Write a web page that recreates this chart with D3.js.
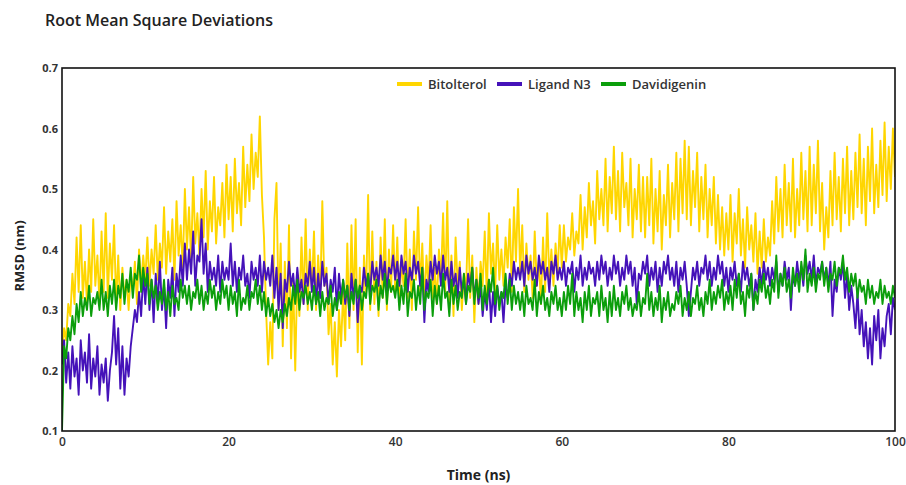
<!DOCTYPE html>
<html>
<head>
<meta charset="utf-8">
<script src="https://cdn.jsdelivr.net/npm/d3@7"></script>
<style>
  body { margin: 0; background: #fff; }
  text { font-family: "Open Sans", "DejaVu Sans", sans-serif; }
</style>
</head>
<body>
<div class="chart"></div>
<script>
// sampled every 0.25 ns, 0 .. 100 ns
const timeStep = 0.25;

const bitolterol = [
  0.22,0.27,0.25,0.31, 0.29,0.36,0.31,0.42, 0.33,0.44,0.32,0.38, 0.31,0.40,0.33,0.45, 0.34,0.39,0.31,0.43,
  0.33,0.46,0.32,0.41, 0.35,0.44,0.31,0.39, 0.30,0.37,0.32,0.35, 0.30,0.36,0.33,0.38, 0.31,0.40,0.34,0.39,
  0.35,0.42,0.34,0.40, 0.36,0.44,0.35,0.41, 0.37,0.47,0.36,0.43, 0.38,0.45,0.35,0.48, 0.39,0.44,0.37,0.50,
  0.40,0.47,0.38,0.52, 0.41,0.46,0.39,0.50, 0.42,0.53,0.40,0.48, 0.43,0.52,0.41,0.47, 0.44,0.51,0.42,0.54,
  0.45,0.52,0.43,0.55, 0.46,0.51,0.44,0.57, 0.47,0.54,0.48,0.59, 0.50,0.56,0.52,0.62, 0.49,0.42,0.30,0.21,
  0.28,0.22,0.45,0.51, 0.30,0.41,0.24,0.38, 0.27,0.44,0.22,0.35, 0.20,0.36,0.29,0.42, 0.31,0.45,0.30,0.40,
  0.33,0.43,0.30,0.39, 0.32,0.48,0.34,0.37, 0.26,0.31,0.21,0.28, 0.19,0.30,0.24,0.33, 0.25,0.41,0.27,0.44,
  0.30,0.45,0.23,0.37, 0.21,0.39,0.32,0.49, 0.30,0.43,0.31,0.38, 0.29,0.42,0.32,0.45, 0.30,0.40,0.33,0.44,
  0.33,0.42,0.31,0.38, 0.34,0.45,0.32,0.40, 0.30,0.43,0.35,0.47, 0.33,0.41,0.31,0.39, 0.34,0.44,0.32,0.37,
  0.31,0.40,0.35,0.46, 0.33,0.48,0.31,0.39, 0.29,0.42,0.34,0.38, 0.30,0.36,0.33,0.45, 0.32,0.39,0.28,0.37,
  0.31,0.38,0.34,0.43, 0.32,0.46,0.36,0.41, 0.33,0.44,0.35,0.40, 0.34,0.42,0.37,0.45, 0.33,0.47,0.38,0.50,
  0.36,0.44,0.33,0.41, 0.35,0.39,0.32,0.43, 0.34,0.38,0.31,0.42, 0.33,0.46,0.35,0.40, 0.34,0.41,0.36,0.44,
  0.37,0.44,0.38,0.42, 0.40,0.46,0.39,0.43, 0.41,0.49,0.40,0.47, 0.42,0.51,0.44,0.48, 0.41,0.53,0.45,0.50,
  0.44,0.55,0.43,0.52, 0.46,0.57,0.45,0.53, 0.43,0.56,0.47,0.51, 0.44,0.55,0.42,0.50, 0.45,0.54,0.43,0.52,
  0.42,0.52,0.44,0.55, 0.41,0.50,0.43,0.53, 0.40,0.49,0.44,0.54, 0.42,0.51,0.45,0.56, 0.43,0.55,0.46,0.58,
  0.45,0.57,0.44,0.53, 0.47,0.56,0.43,0.52, 0.45,0.54,0.42,0.50, 0.44,0.52,0.41,0.49, 0.40,0.47,0.39,0.46,
  0.40,0.49,0.38,0.46, 0.41,0.50,0.39,0.45, 0.37,0.47,0.40,0.44, 0.38,0.46,0.36,0.43, 0.37,0.45,0.38,0.42,
  0.39,0.48,0.41,0.52, 0.43,0.50,0.42,0.54, 0.44,0.51,0.43,0.55, 0.42,0.50,0.44,0.56, 0.45,0.53,0.43,0.57,
  0.44,0.54,0.46,0.58, 0.43,0.51,0.40,0.47, 0.42,0.53,0.44,0.56, 0.45,0.52,0.43,0.55, 0.46,0.57,0.44,0.53,
  0.45,0.56,0.47,0.59, 0.46,0.55,0.44,0.57, 0.48,0.60,0.46,0.54, 0.47,0.58,0.49,0.61, 0.48,0.57,0.50,0.60,
  0.52
];

const ligandN3 = [
  0.21,0.25,0.18,0.23, 0.17,0.24,0.19,0.22, 0.16,0.25,0.20,0.23, 0.18,0.26,0.17,0.22, 0.19,0.24,0.16,0.21,
  0.18,0.22,0.15,0.20, 0.23,0.29,0.21,0.27, 0.17,0.24,0.16,0.22, 0.19,0.24,0.27,0.30, 0.28,0.33,0.29,0.36,
  0.31,0.37,0.30,0.35, 0.28,0.36,0.31,0.38, 0.30,0.34,0.27,0.35, 0.32,0.37,0.29,0.36, 0.33,0.39,0.34,0.41,
  0.35,0.40,0.36,0.43, 0.34,0.39,0.38,0.45, 0.36,0.41,0.33,0.38, 0.35,0.37,0.34,0.39, 0.33,0.38,0.35,0.37,
  0.35,0.41,0.34,0.38, 0.33,0.37,0.35,0.39, 0.34,0.36,0.32,0.38, 0.35,0.37,0.34,0.39, 0.33,0.38,0.35,0.37,
  0.34,0.39,0.32,0.37, 0.30,0.36,0.27,0.35, 0.33,0.38,0.34,0.36, 0.32,0.37,0.33,0.35, 0.31,0.36,0.34,0.38,
  0.33,0.37,0.31,0.36, 0.32,0.38,0.34,0.36, 0.31,0.35,0.33,0.37, 0.30,0.36,0.32,0.35, 0.31,0.34,0.29,0.36,
  0.32,0.35,0.28,0.34, 0.33,0.37,0.34,0.36, 0.33,0.38,0.35,0.37, 0.34,0.39,0.35,0.38, 0.33,0.37,0.36,0.39,
  0.35,0.38,0.34,0.39, 0.36,0.38,0.33,0.37, 0.35,0.39,0.36,0.38, 0.34,0.37,0.28,0.35, 0.33,0.38,0.35,0.39,
  0.36,0.38,0.34,0.39, 0.35,0.37,0.33,0.38, 0.34,0.36,0.32,0.37, 0.33,0.35,0.31,0.36, 0.34,0.37,0.32,0.35,
  0.31,0.34,0.29,0.33, 0.30,0.35,0.28,0.33, 0.29,0.34,0.31,0.33, 0.28,0.34,0.32,0.36, 0.34,0.38,0.35,0.37,
  0.35,0.38,0.34,0.39, 0.36,0.38,0.35,0.37, 0.34,0.39,0.36,0.38, 0.35,0.37,0.33,0.38, 0.36,0.39,0.35,0.37,
  0.35,0.38,0.34,0.37, 0.36,0.38,0.33,0.37, 0.35,0.39,0.34,0.37, 0.35,0.38,0.36,0.37, 0.34,0.38,0.35,0.39,
  0.36,0.38,0.34,0.37, 0.35,0.39,0.36,0.38, 0.34,0.37,0.35,0.39, 0.36,0.38,0.34,0.37, 0.31,0.36,0.35,0.38,
  0.36,0.39,0.34,0.37, 0.35,0.38,0.33,0.37, 0.34,0.38,0.36,0.39, 0.35,0.37,0.34,0.38, 0.33,0.37,0.35,0.38,
  0.34,0.29,0.33,0.37, 0.35,0.38,0.34,0.37, 0.36,0.39,0.35,0.38, 0.34,0.37,0.35,0.39, 0.36,0.38,0.34,0.37,
  0.33,0.37,0.35,0.38, 0.34,0.36,0.33,0.38, 0.35,0.37,0.34,0.36, 0.30,0.35,0.33,0.37, 0.34,0.38,0.35,0.37,
  0.34,0.37,0.35,0.38, 0.33,0.36,0.34,0.38, 0.35,0.37,0.30,0.36, 0.34,0.38,0.35,0.37, 0.34,0.39,0.36,0.38,
  0.35,0.39,0.34,0.37, 0.36,0.38,0.35,0.37, 0.34,0.38,0.29,0.35, 0.33,0.37,0.35,0.38, 0.32,0.36,0.30,0.34,
  0.31,0.27,0.33,0.26, 0.30,0.24,0.28,0.22, 0.27,0.21,0.29,0.25, 0.30,0.22,0.27,0.24, 0.29,0.31,0.26,0.32,
  0.30
];

const davidigenin = [
  0.10,0.24,0.22,0.27, 0.25,0.29,0.26,0.31, 0.28,0.33,0.29,0.32, 0.30,0.34,0.29,0.32, 0.31,0.33,0.30,0.35,
  0.30,0.33,0.29,0.34, 0.31,0.35,0.30,0.34, 0.32,0.36,0.31,0.35, 0.33,0.37,0.32,0.36, 0.35,0.39,0.33,0.37,
  0.34,0.36,0.31,0.35, 0.32,0.34,0.30,0.33, 0.31,0.35,0.30,0.33, 0.29,0.34,0.31,0.32, 0.30,0.35,0.32,0.34,
  0.31,0.34,0.30,0.33, 0.32,0.35,0.31,0.34, 0.30,0.33,0.31,0.35, 0.32,0.34,0.30,0.33, 0.31,0.35,0.32,0.34,
  0.30,0.34,0.31,0.33, 0.29,0.35,0.30,0.32, 0.31,0.34,0.30,0.33, 0.32,0.35,0.31,0.34, 0.30,0.33,0.29,0.32,
  0.29,0.31,0.28,0.30, 0.27,0.30,0.28,0.31, 0.29,0.32,0.30,0.34, 0.31,0.35,0.30,0.33, 0.32,0.34,0.31,0.33,
  0.30,0.34,0.31,0.33, 0.29,0.33,0.30,0.32, 0.31,0.34,0.29,0.32, 0.30,0.33,0.31,0.35, 0.32,0.34,0.30,0.33,
  0.31,0.35,0.32,0.34, 0.30,0.33,0.32,0.36, 0.31,0.34,0.33,0.35, 0.30,0.34,0.32,0.36, 0.31,0.35,0.33,0.34,
  0.32,0.35,0.30,0.34, 0.31,0.36,0.29,0.33, 0.32,0.35,0.30,0.34, 0.31,0.37,0.30,0.33, 0.32,0.35,0.29,0.34,
  0.31,0.34,0.30,0.36, 0.32,0.33,0.29,0.35, 0.31,0.34,0.30,0.33, 0.32,0.36,0.31,0.34, 0.33,0.37,0.31,0.35,
  0.32,0.36,0.30,0.34, 0.31,0.35,0.33,0.37, 0.31,0.34,0.30,0.33, 0.32,0.36,0.31,0.35, 0.30,0.34,0.31,0.33,
  0.30,0.33,0.29,0.34, 0.31,0.32,0.30,0.35, 0.29,0.33,0.31,0.34, 0.30,0.32,0.29,0.33, 0.31,0.34,0.30,0.32,
  0.29,0.33,0.30,0.34, 0.31,0.36,0.29,0.33, 0.30,0.32,0.28,0.33, 0.30,0.34,0.29,0.32, 0.31,0.33,0.29,0.34,
  0.30,0.32,0.28,0.33, 0.29,0.34,0.30,0.32, 0.29,0.33,0.31,0.34, 0.30,0.32,0.29,0.31, 0.30,0.33,0.29,0.32,
  0.31,0.36,0.30,0.33, 0.29,0.32,0.30,0.34, 0.28,0.32,0.30,0.33, 0.29,0.31,0.30,0.33, 0.31,0.34,0.29,0.32,
  0.30,0.33,0.29,0.32, 0.31,0.34,0.30,0.32, 0.29,0.33,0.31,0.35, 0.30,0.33,0.31,0.34, 0.32,0.35,0.30,0.33,
  0.31,0.34,0.30,0.35, 0.32,0.36,0.31,0.33, 0.29,0.34,0.32,0.36, 0.30,0.33,0.31,0.35, 0.33,0.36,0.32,0.34,
  0.31,0.35,0.33,0.39, 0.32,0.36,0.34,0.37, 0.33,0.35,0.32,0.37, 0.34,0.36,0.33,0.38, 0.35,0.40,0.33,0.36,
  0.34,0.37,0.33,0.36, 0.35,0.38,0.34,0.37, 0.33,0.36,0.35,0.38, 0.34,0.37,0.36,0.39, 0.35,0.37,0.33,0.36,
  0.34,0.36,0.32,0.35, 0.33,0.34,0.31,0.35, 0.32,0.34,0.31,0.33, 0.32,0.35,0.31,0.34, 0.32,0.33,0.31,0.34,
  0.32
];

const seriesNames = ["Bitolterol", "Ligand N3", "Davidigenin"];
const seriesColors = ["#ffd600", "#4512b9", "#0b9e0b"];
const xTicks = [0, 20, 40, 60, 80, 100];
const yTicks = [0.1, 0.2, 0.3, 0.4, 0.5, 0.6, 0.7];

const width = 906, height = 485;
const margin = {top: 68, right: 11, bottom: 54, left: 62};

const svg = d3.select(".chart").append("svg")
    .attr("width", width)
    .attr("height", height);

const xScale = d3.scaleLinear()
    .domain([0, 100])
    .range([margin.left, width - margin.right]);

const yScale = d3.scaleLinear()
    .domain([0.1, 0.7])
    .range([height - margin.bottom, margin.top]);

svg.append("text")
    .attr("x", 45)
    .attr("y", 26)
    .attr("font-size", 16)
    .attr("font-weight", 600)
    .attr("fill", "#222")
    .text("Root Mean Square Deviations");

const xAxis = d3.axisBottom(xScale)
    .tickValues(xTicks)
    .tickSize(0)
    .tickPadding(6)
    .tickFormat(d3.format("d"));

const yAxis = d3.axisLeft(yScale)
    .tickValues(yTicks)
    .tickSize(0)
    .tickPadding(4)
    .tickFormat(d3.format(".1f"));

svg.append("g")
    .attr("class", "axis x-axis")
    .attr("transform", `translate(0, ${height - margin.bottom})`)
    .call(xAxis)
    .call(g => g.select(".domain").remove())
    .selectAll("text")
    .attr("font-size", 12)
    .attr("font-weight", 600)
    .attr("fill", "#333");

svg.append("g")
    .attr("class", "axis y-axis")
    .attr("transform", `translate(${margin.left}, 0)`)
    .call(yAxis)
    .call(g => g.select(".domain").remove())
    .selectAll("text")
    .attr("font-size", 11)
    .attr("font-weight", 700)
    .attr("fill", "#333");

const series = [bitolterol, ligandN3, davidigenin];

const line = d3.line()
    .x((d, i) => xScale(i * timeStep))
    .y(d => yScale(d));

const plot = svg.append("g");

plot.append("defs").append("clipPath")
    .attr("id", "clip")
    .append("rect")
    .attr("x", margin.left)
    .attr("y", margin.top)
    .attr("width", width - margin.left - margin.right)
    .attr("height", height - margin.top - margin.bottom);

plot.selectAll("path.trace")
    .data(series)
    .join("path")
    .attr("class", "trace")
    .attr("clip-path", "url(#clip)")
    .attr("fill", "none")
    .attr("stroke", (d, i) => seriesColors[i])
    .attr("stroke-width", 1.9)
    .attr("stroke-linejoin", "round")
    .attr("d", line);

// frame
svg.append("rect")
    .attr("x", margin.left)
    .attr("y", margin.top)
    .attr("width", width - margin.left - margin.right)
    .attr("height", height - margin.top - margin.bottom)
    .attr("fill", "none")
    .attr("stroke", "#111")
    .attr("stroke-width", 1.6);

// legend
const legendX = [397, 497, 601];
const legend = svg.append("g")
    .selectAll("g")
    .data(seriesNames)
    .join("g")
    .attr("transform", (d, i) => `translate(${legendX[i]}, 84)`);

legend.append("line")
    .attr("x1", 0)
    .attr("x2", 25)
    .attr("stroke", (d, i) => seriesColors[i])
    .attr("stroke-width", 4);

legend.append("text")
    .attr("x", 31)
    .attr("dy", "0.35em")
    .attr("font-size", 13)
    .attr("font-weight", 600)
    .attr("fill", "#333")
    .text(d => d);

svg.append("text")
    .attr("x", xScale(50))
    .attr("y", 480)
    .attr("text-anchor", "middle")
    .attr("font-size", 14)
    .attr("font-weight", 700)
    .attr("fill", "#222")
    .text("Time (ns)");

svg.append("text")
    .attr("transform", `translate(24, 256) rotate(-90)`)
    .attr("text-anchor", "middle")
    .attr("font-size", 13)
    .attr("font-weight", 700)
    .attr("fill", "#222")
    .text("RMSD (nm)");
</script>
</body>
</html>
